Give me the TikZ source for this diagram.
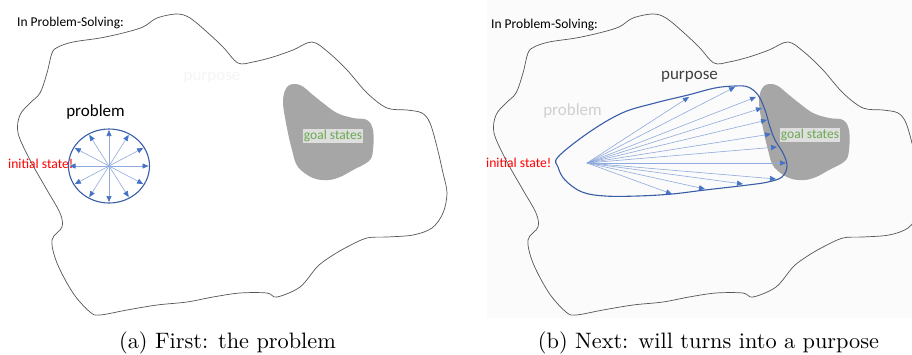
\documentclass[tikz,border=0pt]{standalone}
\usepackage{fontspec}
\newfontfamily\carl{Carlito}
\usetikzlibrary{arrows.meta,calc}
\definecolor{blobline}{HTML}{555555}
\definecolor{goalfill}{HTML}{A6A6A6}
\definecolor{labelbg}{HTML}{DEDEDE}
\definecolor{goalgreen}{HTML}{6AA84F}
\definecolor{rayc}{HTML}{8FAADC}
\definecolor{rayhead}{HTML}{4472C4}
\definecolor{rim}{HTML}{3A5DA8}
\definecolor{panelbg}{HTML}{FBFBFB}
\newcommand\blobpath{plot[smooth cycle,tension=0.55] coordinates {(73,42) (100,38) (123,33) (143,27) (157,18) (177,14) (190,18) (207,32) (223,47) (238,63) (253,62) (273,57) (293,50) (312,42) (328,52) (347,70) (367,93) (387,108) (407,110) (422,113) (430,123) (437,147) (443,173) (447,193) (443,213) (432,228) (413,235) (387,237) (367,238) (347,247) (330,257) (317,267) (300,287) (277,297) (267,293) (240,293) (213,297) (187,302) (157,305) (127,310) (100,315) (90,312) (73,293) (57,263) (52,240) (62,227) (60,213) (47,190) (30,160) (18,133) (20,115) (30,103) (40,93) (47,73) (52,53) (58,47)}}
\newcommand\goalpath{plot[smooth cycle,tension=0.6] coordinates {(288,86) (300,85) (313,95) (323,103) (337,113) (353,118) (367,120) (373,130) (373,150) (369,161) (353,170) (340,177) (328,180) (313,178) (298,167) (292,150) (286,123) (283,100)}}
\tikzset{
  blob/.style={draw=blobline, line width=0.7pt},
  goal/.style={fill=goalfill, draw=none},
  glabel/.style={fill=labelbg, text=goalgreen, inner sep=1.2pt, font=\carl\fontsize{13.5}{15}\selectfont},
  raystyle/.style={draw=rayc, line width=0.6pt, -{Triangle[length=6pt,width=5pt,color=rayhead]}},
  rimstyle/.style={draw=rim, line width=1.1pt},
  small/.style={font=\carl\fontsize{13.5}{15}\selectfont},
  big/.style={font=\carl\fontsize{17}{19}\selectfont},
  redtxt/.style={text=red, font=\carl\fontsize{13.6}{15}\selectfont, inner sep=0pt},
  captionstyle/.style={inner sep=0pt}
}
\begin{document}
\begin{tikzpicture}[x=1pt,y=-1pt]
\useasboundingbox (0,0) rectangle (912,354);
\fill[white] (0,0) rectangle (912,354);
\fill[panelbg] (487,0) rectangle (912,318);
\begin{scope}
\clip (0,0) rectangle (912,354);
% left panel
\draw[blob] \blobpath;
\fill[goal] \goalpath;
% right panel
\draw[blob, shift={(476,0)}] \blobpath;
\fill[goal, shift={(476,0)}] \goalpath;
\end{scope}

% ---- left panel ----
\node[small, anchor=west, inner sep=0pt] (t1) at (17,23) {In Problem-Solving:};
\node[big, text={rgb,255:red,245;green,245;blue,245}] (pu1) at (212,78) {purpose};
\node[big] (pr1) at (95.5,112) {problem};
\coordinate (c1) at (109,166);
\draw[rimstyle] (c1) ellipse [x radius=40.5, y radius=37];
\foreach \a in {0,30,...,330}{
  \draw[raystyle] (c1) -- ($(c1)+(\a:39.5 and 36)$);
}
\node[redtxt, anchor=west] (is1) at (8,164) {initial state!};
\node[glabel] (g1) at (333,136) {goal states};

% ---- right panel ----
\node[small, anchor=west, inner sep=0pt] (t2) at (491,25) {In Problem-Solving:};
\node[big, text={rgb,255:red,208;green,208;blue,208}] (pr2) at (572.5,111) {problem};
\node[big, text={rgb,255:red,64;green,64;blue,64}] (pu2) at (689.5,77) {purpose};
\draw[rimstyle] plot[smooth cycle, tension=0.6] coordinates {(558,157) (588,133) (622,113) (655,103) (688,95) (715,88) (735,86) (748,87) (758,95) (765,110) (770,127) (775,140) (783,153) (787,166) (782,177) (768,182) (748,185) (705,190) (672,194) (638,196) (605,196) (582,192) (565,180) (558,167)};
\coordinate (o2) at (587,163);
\foreach \p in {(689,97),(735,87),(756,97),(762,108),(767,120),(771,134),(777,147),(786,163),(776,179),(743,184),(705,189),(672,194)}{
  \draw[raystyle] (o2) -- \p;
}
\node[redtxt, anchor=west] (is2) at (486,163) {initial state!};
\node[glabel] (g2) at (810,135) {goal states};

% captions
\node[captionstyle] (capa) at (227.5,343) {\scalebox{2.23}{(a) First: the problem}};
\node[captionstyle] (capb) at (708.5,343) {\scalebox{2.23}{(b) Next: will turns into a purpose}};
\end{tikzpicture}
\end{document}
